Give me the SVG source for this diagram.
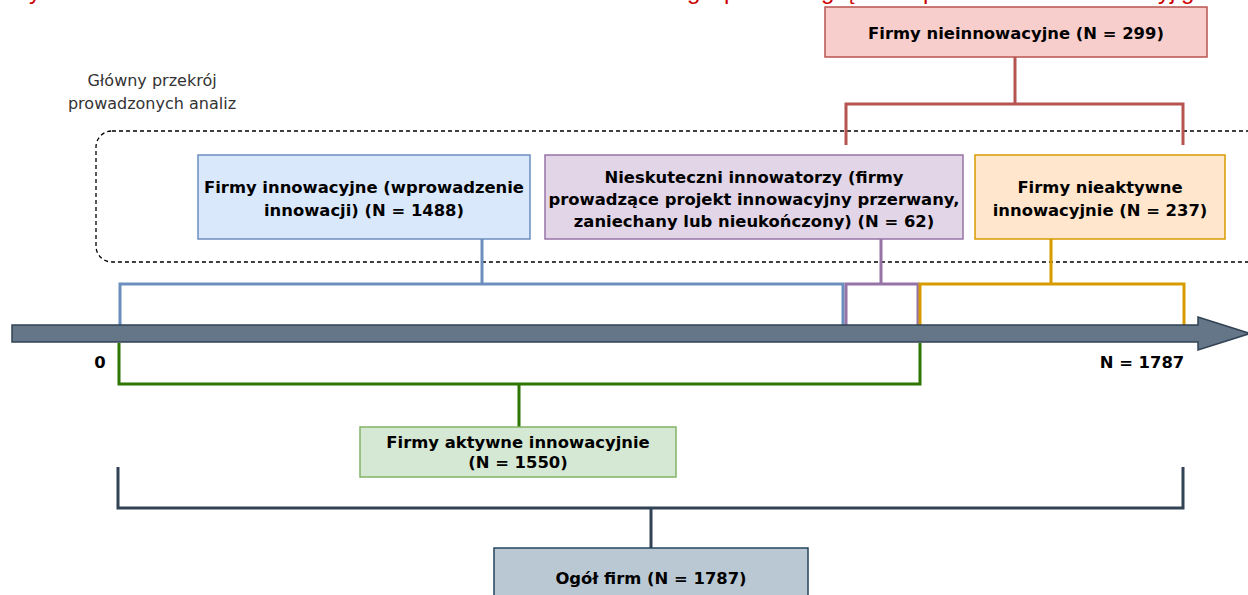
<svg xmlns="http://www.w3.org/2000/svg" width="1248" height="595" viewBox="0 0 1248 595">
<style>
.t{font-family:"DejaVu Sans",Verdana,sans-serif;font-size:16.4px;font-weight:bold;fill:#000;text-anchor:middle}
.r{font-family:"DejaVu Sans",Verdana,sans-serif;font-size:16px;fill:#333;text-anchor:middle}
.red{font-family:"Liberation Sans",Arial,sans-serif;font-size:24px;fill:#cc0000}
.c{fill:none;stroke-width:3;stroke-linejoin:miter;stroke-linecap:butt}
</style>
<rect width="1248" height="595" fill="#fff"/>
<g id="title-fragments">
<text class="red" x="29" y="-1">y</text>
<text class="red" x="687" y="-1">g</text>
<text class="red" x="724" y="-1">p</text>
<text class="red" x="821" y="-1">g</text>
<text class="red" x="841" y="-1">ą</text>
<text class="red" x="923" y="-1">p</text>
<text class="red" x="1158" y="-1">yj</text>
<text class="red" x="1181" y="-1">g</text>
</g>
<g id="section-label">
<text class="r" x="152" y="86">Główny przekrój</text>
<text class="r" x="152" y="109">prowadzonych analiz</text>
<rect x="96" y="131" width="1170" height="131" rx="16" ry="16" fill="none" stroke="#000" stroke-width="1.3" stroke-dasharray="4 3"/>
</g>
<g id="connectors">
<path class="c" stroke="#b85450" d="M1015 57V104M846 145V104H1183V145"/>
<path class="c" stroke="#6c8ebf" d="M482 239V284M120 325V284H843V325"/>
<path class="c" stroke="#9673a6" d="M881 239V284M846 325V284H918V325"/>
<path class="c" stroke="#d79b00" d="M1051 239V284M920 325V284H1184V325"/>
<path class="c" stroke="#2d7600" d="M119 343V384H920V343M519 384V427"/>
<path class="c" stroke="#314354" d="M118 467V508H1183V467M651 508V548"/>
</g>
<g id="axis">
<path d="M12 325H1198V317L1250 333.5L1198 350V342H12Z" fill="#647687" stroke="#314354" stroke-width="1.5"/>
<text class="t" x="100" y="368">0</text>
<text class="t" x="1142" y="368">N = 1787</text>
</g>
<g id="node-nieinnowacyjne">
<rect x="825" y="7" width="382" height="50" fill="#f8cecc" stroke="#b85450" stroke-width="1.5"/>
<text class="t" x="1016" y="39">Firmy nieinnowacyjne (N = 299)</text>
</g>
<g id="node-innowacyjne">
<rect x="198" y="155" width="332" height="84" fill="#dae8fc" stroke="#6c8ebf" stroke-width="1.5"/>
<text class="t" x="364" y="193">Firmy innowacyjne (wprowadzenie</text>
<text class="t" x="364" y="216">innowacji) (N = 1488)</text>
</g>
<g id="node-nieskuteczni">
<rect x="545" y="155" width="418" height="84" fill="#e1d5e7" stroke="#9673a6" stroke-width="1.5"/>
<text class="t" x="754" y="183">Nieskuteczni innowatorzy (firmy</text>
<text class="t" x="754" y="205">prowadzące projekt innowacyjny przerwany,</text>
<text class="t" x="754" y="227">zaniechany lub nieukończony) (N = 62)</text>
</g>
<g id="node-nieaktywne">
<rect x="975" y="155" width="250" height="84" fill="#ffe6cc" stroke="#d79b00" stroke-width="1.5"/>
<text class="t" x="1100" y="193">Firmy nieaktywne</text>
<text class="t" x="1100" y="216">innowacyjnie (N = 237)</text>
</g>
<g id="node-aktywne">
<rect x="360" y="427" width="316" height="50" fill="#d5e8d4" stroke="#82b366" stroke-width="1.5"/>
<text class="t" x="518" y="448">Firmy aktywne innowacyjnie</text>
<text class="t" x="518" y="468">(N = 1550)</text>
</g>
<g id="node-ogol">
<rect x="494" y="548" width="314" height="60" fill="#bac8d3" stroke="#23445d" stroke-width="1.5"/>
<text class="t" x="651" y="584">Ogół firm (N = 1787)</text>
</g>
</svg>
